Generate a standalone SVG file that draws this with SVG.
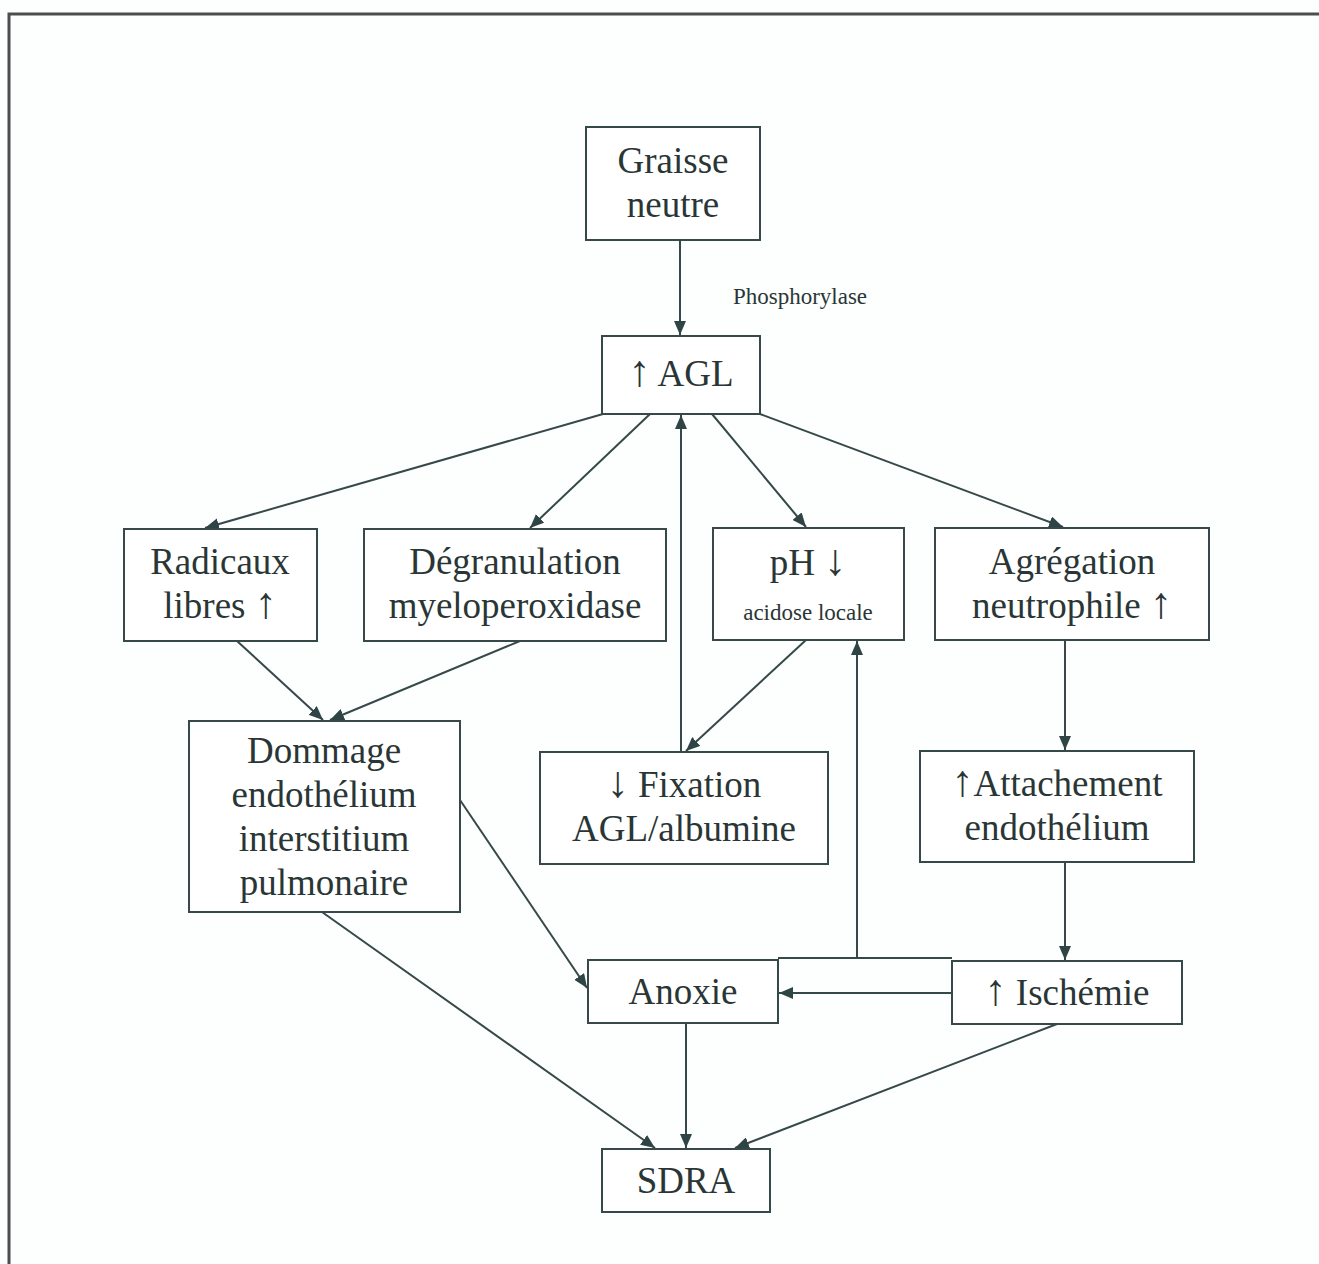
<svg xmlns="http://www.w3.org/2000/svg" width="1319" height="1264" viewBox="0 0 1319 1264">
<defs>
<marker id="ah" markerUnits="userSpaceOnUse" markerWidth="14" markerHeight="12" refX="14" refY="6" orient="auto" viewBox="0 0 14 12">
<path d="M0,0 L14,6 L0,12 z" fill="#2f4545"/>
</marker>
<style>
.box{fill:#fff;stroke:#374848;stroke-width:2}
.t{font-family:"Liberation Serif","Times New Roman",serif;font-size:37px;fill:#2a3636;text-anchor:middle}
.s{font-family:"Liberation Serif","Times New Roman",serif;font-size:23px;fill:#2a3636;text-anchor:middle}
.ar{font-size:44px}
.c{fill:none;stroke:#374848;stroke-width:2}
.a{marker-end:url(#ah)}
</style>
</defs>
<rect x="0" y="0" width="1319" height="1264" fill="#fdfefe"/>
<path d="M9,1264 V14 H1319" fill="none" stroke="#4a4e4e" stroke-width="3"/>

<g id="connectors">
<path class="c a" d="M680,240 V335"/>
<path class="c a" d="M603,414 L205,528"/>
<path class="c a" d="M650,414 L530,528"/>
<path class="c a" d="M681,752 V415"/>
<path class="c a" d="M712,414 L806,527"/>
<path class="c a" d="M760,414 L1063,527"/>
<path class="c a" d="M237,641 L323,720"/>
<path class="c a" d="M520,641 L330,720"/>
<path class="c a" d="M806,640 L686,751"/>
<path class="c a" d="M1065,640 V750"/>
<path class="c a" d="M1065,862 V960"/>
<path class="c a" d="M952,993 H779"/>
<path class="c" d="M952,958 H778"/>
<path class="c a" d="M857,958 V641"/>
<path class="c a" d="M460,800 L587,988"/>
<path class="c a" d="M322,912 L655,1148"/>
<path class="c a" d="M686,1023 V1148"/>
<path class="c a" d="M1057,1024 L735,1148"/>
</g>

<g id="graisse"><rect class="box" x="586" y="127" width="174" height="113"/><text class="t" x="673" y="173">Graisse</text><text class="t" x="673" y="217">neutre</text></g>
<g id="phosphorylase-label"><text class="s" x="800" y="304">Phosphorylase</text></g>
<g id="agl"><rect class="box" x="602" y="336" width="158" height="78"/><text class="t" x="681" y="386"><tspan class="ar">↑</tspan> AGL</text></g>
<g id="radicaux"><rect class="box" x="124" y="529" width="193" height="112"/><text class="t" x="220" y="574">Radicaux</text><text class="t" x="220" y="618">libres <tspan class="ar">↑</tspan></text></g>
<g id="degranulation"><rect class="box" x="364" y="529" width="302" height="112"/><text class="t" x="515" y="574">Dégranulation</text><text class="t" x="515" y="618">myeloperoxidase</text></g>
<g id="ph"><rect class="box" x="713" y="528" width="191" height="112"/><text class="t" x="808" y="575">pH <tspan class="ar">↓</tspan></text><text class="s" x="808" y="620">acidose locale</text></g>
<g id="agregation"><rect class="box" x="935" y="528" width="274" height="112"/><text class="t" x="1072" y="574">Agrégation</text><text class="t" x="1072" y="618">neutrophile <tspan class="ar">↑</tspan></text></g>
<g id="dommage"><rect class="box" x="189" y="721" width="271" height="191"/><text class="t" x="324" y="763">Dommage</text><text class="t" x="324" y="807">endothélium</text><text class="t" x="324" y="851">interstitium</text><text class="t" x="324" y="895">pulmonaire</text></g>
<g id="fixation"><rect class="box" x="540" y="752" width="288" height="112"/><text class="t" x="684" y="797"><tspan class="ar">↓</tspan> Fixation</text><text class="t" x="684" y="841">AGL/albumine</text></g>
<g id="attachement"><rect class="box" x="920" y="751" width="274" height="111"/><text class="t" x="1057" y="796"><tspan class="ar">↑</tspan>Attachement</text><text class="t" x="1057" y="840">endothélium</text></g>
<g id="anoxie"><rect class="box" x="588" y="960" width="190" height="63"/><text class="t" x="683" y="1004">Anoxie</text></g>
<g id="ischemie"><rect class="box" x="952" y="961" width="230" height="63"/><text class="t" x="1067" y="1005"><tspan class="ar">↑</tspan> Ischémie</text></g>
<g id="sdra"><rect class="box" x="602" y="1149" width="168" height="63"/><text class="t" x="686" y="1193">SDRA</text></g>
</svg>
